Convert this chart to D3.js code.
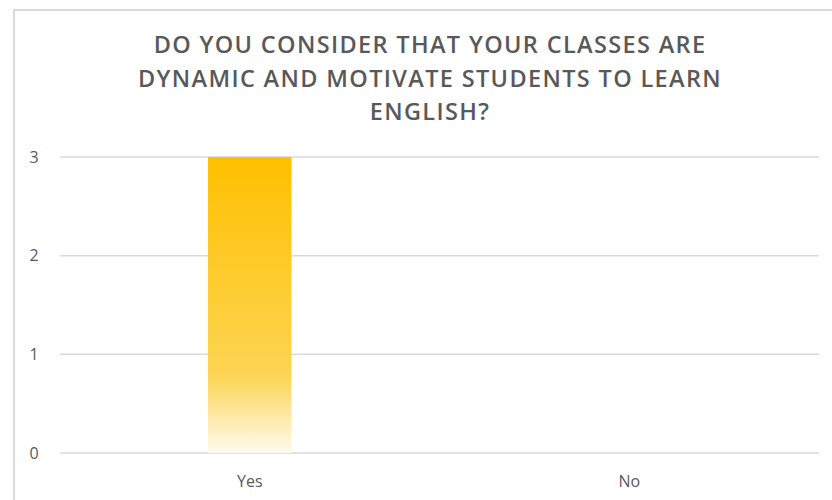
<!DOCTYPE html>
<html>
<head>
<meta charset="utf-8">
<script src="https://cdnjs.cloudflare.com/ajax/libs/d3/7.8.5/d3.min.js"></script>
<style>
  body { margin: 0; background: #fff; }
  text { font-family: "Open Sans", sans-serif; }
</style>
</head>
<body>
<script>
  var categories = ["Yes", "No"];
  var values = [3, 0];
  var yTicks = [0, 1, 2, 3];
  var titleLines = ["DO YOU CONSIDER THAT YOUR CLASSES ARE",
                    "DYNAMIC AND MOTIVATE STUDENTS TO LEARN",
                    "ENGLISH?"];

  var width = 832, height = 500;
  var margin = {top: 157, right: 13, bottom: 47, left: 60};

  var svg = d3.select("body").append("svg")
      .attr("width", width)
      .attr("height", height);

  var defs = svg.append("defs");
  var grad = defs.append("linearGradient")
      .attr("id", "barGrad")
      .attr("x1", 0).attr("y1", 0).attr("x2", 0).attr("y2", 1);
  grad.append("stop").attr("offset", "0%").attr("stop-color", "#ffc000");
  grad.append("stop").attr("offset", "74%").attr("stop-color", "#fdd555");
  grad.append("stop").attr("offset", "100%").attr("stop-color", "#fffaef");

  // chart frame
  svg.append("rect")
      .attr("x", 14).attr("y", 10)
      .attr("width", 840).attr("height", 520)
      .attr("fill", "#fff")
      .attr("stroke", "#d9d9d9")
      .attr("stroke-width", 2);

  var x = d3.scaleBand()
      .domain(categories)
      .range([margin.left, width - margin.right])
      .paddingInner(0.78)
      .paddingOuter(0.39);

  var y = d3.scaleLinear()
      .domain([0, 3])
      .range([height - margin.bottom, margin.top]);

  // gridlines
  svg.append("g")
    .selectAll("line")
    .data(yTicks)
    .enter().append("line")
      .attr("x1", margin.left)
      .attr("x2", width - margin.right)
      .attr("y1", function(d) { return y(d); })
      .attr("y2", function(d) { return y(d); })
      .attr("stroke", "#d9d9d9")
      .attr("stroke-width", 1.5);

  // y labels
  svg.append("g")
    .selectAll("text")
    .data(yTicks)
    .enter().append("text")
      .attr("x", 34)
      .attr("y", function(d) { return y(d); })
      .attr("dy", "0.36em")
      .attr("text-anchor", "middle")
      .attr("fill", "#595959")
      .style("font-size", "16px")
      .text(function(d) { return d; });

  // bars
  svg.append("g")
    .selectAll("rect")
    .data(values)
    .enter().append("rect")
      .attr("x", function(d, i) { return x(categories[i]); })
      .attr("y", function(d) { return y(d); })
      .attr("width", x.bandwidth())
      .attr("height", function(d) { return y(0) - y(d); })
      .attr("fill", "url(#barGrad)");

  // x labels
  svg.append("g")
    .selectAll("text")
    .data(categories)
    .enter().append("text")
      .attr("x", function(d) { return x(d) + x.bandwidth() / 2; })
      .attr("y", 481)
      .attr("dy", "0.36em")
      .attr("text-anchor", "middle")
      .attr("fill", "#595959")
      .style("font-size", "16px")
      .text(function(d) { return d; });

  // title
  svg.append("g")
    .selectAll("text")
    .data(titleLines)
    .enter().append("text")
      .attr("x", 430)
      .attr("y", function(d, i) { return 45 + i * 33.5; })
      .attr("dy", "0.36em")
      .attr("text-anchor", "middle")
      .attr("fill", "#595959")
      .style("font-size", "23.5px")
      .style("font-weight", "600")
      .style("letter-spacing", "1.35px")
      .text(function(d) { return d; });
</script>
</body>
</html>
